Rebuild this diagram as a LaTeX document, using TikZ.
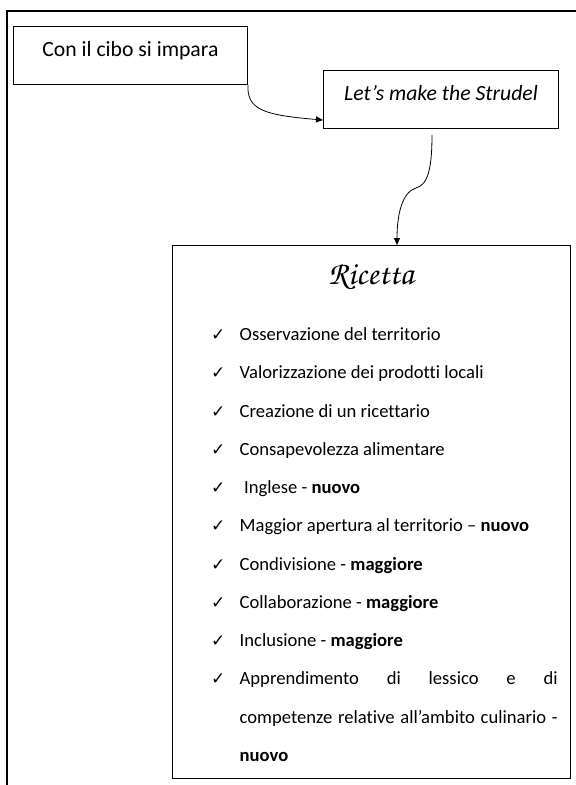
\documentclass[tikz,border=0pt]{standalone}
\usepackage{fontspec}
\setmainfont{Carlito}[Ligatures={NoCommon}]
\newfontfamily\symfont{DejaVu Sans}
\usetikzlibrary{arrows.meta,calc}
\begin{document}
\begin{tikzpicture}[x=1pt,y=-1pt,
  box/.style={draw=black, line width=0.9pt, inner sep=0pt, fill=white},
  boxtext/.style={font=\fontsize{21.7}{26}\selectfont, anchor=base, inner sep=0pt},
  item/.style={font=\fontsize{18.6}{38.27}\selectfont, anchor=base west, inner sep=0pt},
  tick/.style={font=\symfont\fontsize{17}{20}\selectfont, anchor=base west, inner sep=0pt},
  arr/.style={line width=0.8pt, -{Triangle[length=7pt,width=6pt]}}]
\useasboundingbox (0,0) rectangle (576,785);
\fill[white] (0,0) rectangle (576,785);
\draw[line width=2pt] (6.5,785) -- (6.5,10.5) -- (576,10.5);

\node[box, minimum width=234pt, minimum height=58pt, anchor=north west] (b1) at (13,26) {};
\node[boxtext] (t1) at ($(b1.north)+(0,30)$) {Con il cibo si impara};

\node[box, minimum width=235pt, minimum height=57.5pt, anchor=north west] (b2) at (323,70) {};
\node[boxtext, font=\fontsize{21.7}{26}\selectfont\itshape] (t2) at ($(b2.north)+(0,30)$) {Let’s make the Strudel};

\node[box, minimum width=398pt, minimum height=532.5pt, anchor=north west] (b3) at (172,245) {};
\node[anchor=base, inner sep=0pt, font={\fontencoding{T1}\fontfamily{pzc}\fontseries{m}\fontshape{it}\fontsize{33}{36}\selectfont}] (title) at (371,284) {Ricetta};

\coordinate (a1e) at (323,120);
\draw[arr] (b1.south east) .. controls (247,109) and (262,115) .. (a1e);

\coordinate (a2s) at (432,135);
\coordinate (a2m) at (416,188);
\coordinate (a2e) at (397,245);
\draw[arr] (a2s) .. controls (432,168) and (428,185) .. (a2m) .. controls (402,192) and (397,215) .. (a2e);

\node[tick] (c1) at (211,340.5) {✓};
\node[tick] (c2) at (211,378.8) {✓};
\node[tick] (c3) at (211,417.0) {✓};
\node[tick] (c4) at (211,455.3) {✓};
\node[tick] (c5) at (211,493.6) {✓};
\node[tick] (c6) at (211,531.9) {✓};
\node[tick] (c7) at (211,570.1) {✓};
\node[tick] (c8) at (211,608.4) {✓};
\node[tick] (c9) at (211,646.7) {✓};
\node[tick] (c10) at (211,684.9) {✓};

\node[item] (i1) at (239.5,340.5) {Osservazione del territorio};
\node[item] (i2) at (239.5,378.8) {Valorizzazione dei prodotti locali};
\node[item] (i3) at (239.5,417.0) {Creazione di un ricettario};
\node[item] (i4) at (239.5,455.3) {Consapevolezza alimentare};
\node[item] (i5) at (244,493.6) {Inglese - \textbf{nuovo}};
\node[item] (i6) at (239.5,531.9) {Maggior apertura al territorio – \textbf{nuovo}};
\node[item] (i7) at (239.5,570.1) {Condivisione - \textbf{maggiore}};
\node[item] (i8) at (239.5,608.4) {Collaborazione - \textbf{maggiore}};
\node[item] (i9) at (239.5,646.7) {Inclusione - \textbf{maggiore}};
\node[item] (i10a) at (239.5,684.9) {\makebox[318pt][s]{Apprendimento di lessico e di}};
\node[item] (i10b) at (239.5,723.2) {\makebox[318pt][s]{competenze relative all’ambito culinario -}};
\node[item] (i10c) at (239.5,761.5) {\textbf{nuovo}};
\end{tikzpicture}
\end{document}
